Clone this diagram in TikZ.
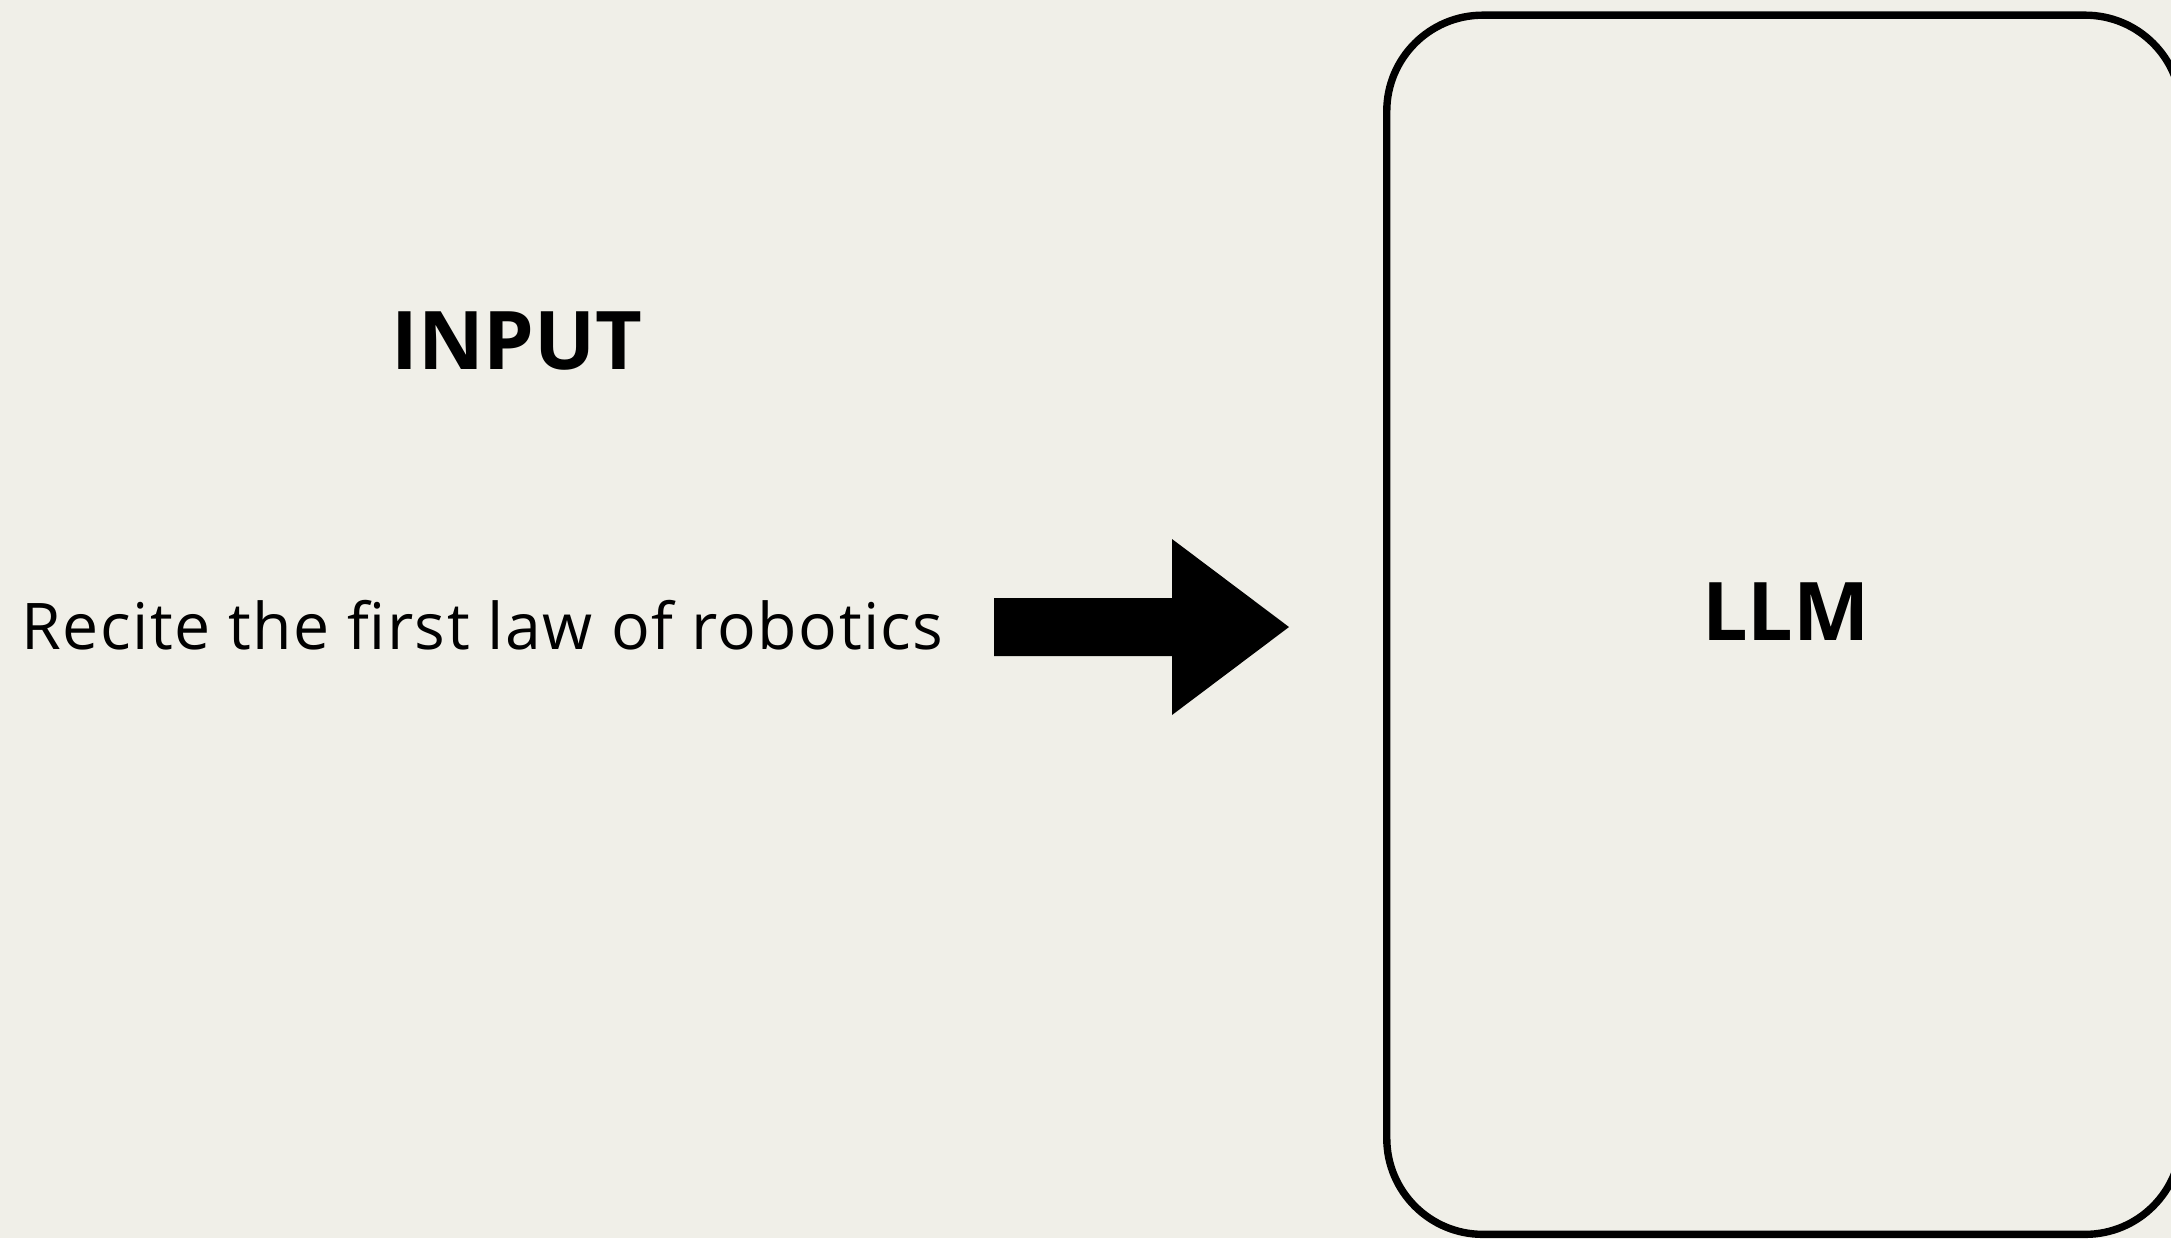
\documentclass[tikz,border=0pt]{standalone}
\usepackage{fontspec}
\setmainfont{Open Sans}
\definecolor{paper}{HTML}{F0EFE8}
\begin{document}
\begin{tikzpicture}[x=0.01cm, y=-0.01cm, >=stealth,
	title/.style={font=\fontsize{23}{28}\selectfont\bfseries, inner sep=0pt, anchor=base},
	prompt/.style={font=\fontsize{18.3}{22}\selectfont\addfontfeature{LetterSpace=2.2}, inner sep=0pt, anchor=base west}]
	\fill[paper] (0,0) rectangle (2171,1238);
	\useasboundingbox (0,0) rectangle (2171,1238);
	\clip (0,0) rectangle (2171,1238);
	\node[draw, line width=2.1pt, rounded corners=0.96cm, minimum width=7.94cm, minimum height=12.185cm] (llm) at (1784,624.75) {};
	\node[title] (llmtext) at (1786,640) {LLM};
	\node[title] (input) at (517,369) {INPUT};
	\node[prompt] (recite) at (21,649) {Recite the first law of robotics};
	\path (994,627) coordinate (tail) (1289,627) coordinate (tip);
	\fill (tail) ++(0,-29) -- ++(178,0) -- ++(0,-59) -- (tip) -- ++(-117,88) -- ++(0,-59) -- ++(-178,0) -- cycle;
\end{tikzpicture}
\end{document}
